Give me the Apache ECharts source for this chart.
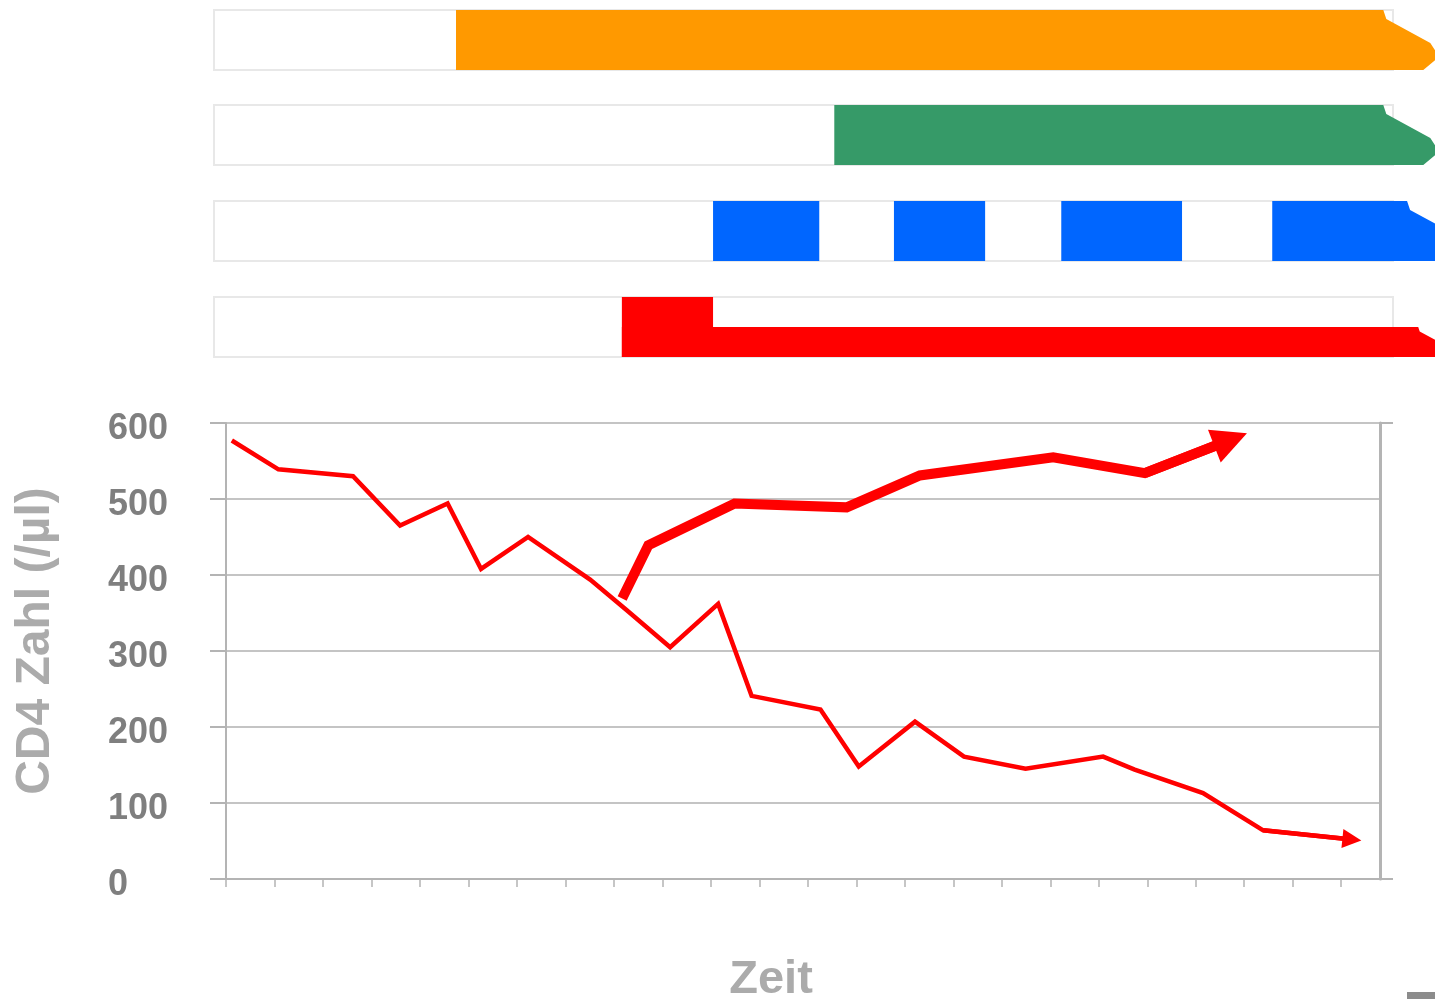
<!DOCTYPE html>
<html lang="de">
<head>
<meta charset="UTF-8">
<title>CD4 Zahl</title>
<style>html,body{margin:0;padding:0;background:#fff;}</style>
</head>
<body>
<div id="main" style="width:1435px;height:999px;"></div>
<script src="https://cdn.jsdelivr.net/npm/echarts@6/dist/echarts.min.js"></script>
<script type="text/javascript">
    // Zeitachse: eine Einheit = ein Teilstrich
    var xTicks = [0,1,2,3,4,5,6,7,8,9,10,11,12,13,14,15,16,17,18,19,20,21,22,23];

    // CD4 Verlauf ohne Therapie (letzter Punkt = Pfeil)
    var cd4Ohne = [[0.12,577],[1.08,539],[2.62,530],[3.59,465],[4.57,494],[5.26,408],
        [6.23,450],[7.51,394],[8.26,354],[9.16,305],[10.15,362],[10.84,241],[12.26,223],
        [13.05,148],[14.21,207],[15.22,161],[16.49,145],[18.09,161],[18.74,144],[20.15,113],
        [21.39,64],[23.22,52]];

    // CD4 Verlauf mit Therapie
    var cd4Mit = [[8.17,369],[8.71,439],[10.49,494],[12.80,489],[14.31,531],[17.06,555],
        [18.95,534],[20.72,578]];

    // Balken oben: [start, ende, unten, oben, pfeil]
    var balkenOrange = [[4.74, 23.86, 0, 1, 1]];
    var balkenGruen  = [[12.54, 23.86, 0, 1, 1]];
    var balkenBlau   = [[10.04, 12.23, 0, 1, 0], [13.77, 15.65, 0, 1, 0],
                        [17.22, 19.71, 0, 1, 0], [21.57, 24.35, 0, 1, 1]];
    var balkenRot    = [[8.16, 10.04, 0, 1, 0], [8.16, 24.58, 0, 0.5, 1]];

    var fontFam = '"Liberation Sans", Arial, sans-serif';
    var grau = '#b4b4b4';

    function balkenItem(params, api) {
        var p0 = api.coord([api.value(0), api.value(3)]);
        var p1 = api.coord([api.value(1), api.value(2)]);
        var x0 = p0[0], top = p0[1], xe = p1[0], bot = p1[1], h = bot - top;
        var pts;
        if (api.value(4)) {
            var k = h / 60;
            pts = [[x0, top], [xe, top], [xe + 3 * k, top + 0.15 * h], [xe + 47 * k, top + 0.55 * h],
                   [xe + 56 * k, top + 0.78 * h], [xe + 40 * k, bot], [x0, bot]];
        } else {
            pts = [[x0, top], [xe, top], [xe, bot], [x0, bot]];
        }
        return { type: 'polygon', shape: { points: pts }, style: { fill: api.visual('color') } };
    }

    var stripTops = [10, 105, 201, 297];
    var grids = [{ left: 226, right: 55, top: 423, bottom: 120, outerBoundsMode: 'none', containLabel: false }];
    var xAxes = [{
        type: 'value', gridIndex: 0, min: 0, max: 23.8,
        name: 'Zeit', nameLocation: 'middle', nameGap: 78,
        nameTextStyle: { fontSize: 47, fontWeight: 'bold', color: '#ababab', fontFamily: fontFam, padding: [0, 64, 0, 0] },
        axisLine: { show: true, lineStyle: { color: grau, width: 2 } },
        axisTick: { show: true, length: 8, customValues: xTicks, lineStyle: { color: grau, width: 1.5 } },
        axisLabel: { show: false },
        splitLine: { show: false }
    }];
    var yAxes = [{
        type: 'value', gridIndex: 0, min: 0, max: 600, interval: 100,
        name: 'CD4 Zahl (/µl)', nameLocation: 'middle', nameGap: 166, nameRotate: 90,
        nameTextStyle: { fontSize: 48, fontWeight: 'bold', color: '#ababab', fontFamily: fontFam, padding: [0, 0, 0, 20] },
        axisLine: { show: true, lineStyle: { color: grau, width: 2 } },
        axisTick: { show: true, length: 16, lineStyle: { color: grau, width: 2 } },
        axisLabel: { margin: 118, align: 'left', verticalAlign: 'top', lineHeight: 12, fontSize: 36,
                     fontWeight: 'bold', color: '#7f7f7f', fontFamily: fontFam },
        splitLine: { show: true, lineStyle: { color: '#c4c4c4', width: 2 } }
    }, {
        type: 'value', gridIndex: 0, position: 'right', min: 0, max: 600, interval: 600,
        axisLine: { show: true, lineStyle: { color: grau, width: 3 } },
        axisTick: { show: true, length: 13, lineStyle: { color: grau, width: 2 } },
        axisLabel: { show: false },
        splitLine: { show: false }
    }];

    var balken = [balkenOrange, balkenGruen, balkenBlau, balkenRot];
    var farben = ['#ff9900', '#369a68', '#0066ff', '#ff0000'];
    var series = [];
    for (var i = 0; i < 4; i++) {
        grids.push({ left: 214, right: 42, top: stripTops[i], height: 60, show: true,
                     borderColor: '#e8e8e8', borderWidth: 2, backgroundColor: '#fff', outerBoundsMode: 'none' });
        xAxes.push({ type: 'value', gridIndex: i + 1, min: -0.25, max: 24.06, show: false });
        yAxes.push({ type: 'value', gridIndex: i + 1, min: 0, max: 1, show: false });
        series.push({
            type: 'custom', xAxisIndex: i + 1, yAxisIndex: i + 2, clip: false,
            itemStyle: { color: farben[i] },
            renderItem: balkenItem, data: balken[i], silent: true
        });
    }

    series.push({
        name: 'ohne', type: 'line', xAxisIndex: 0, yAxisIndex: 0, data: cd4Ohne,
        symbol: 'none', lineStyle: { color: '#ff0000', width: 4.5, join: 'miter', cap: 'butt' }, z: 5
    });
    series.push({
        name: 'mit', type: 'line', xAxisIndex: 0, yAxisIndex: 0, data: cd4Mit,
        symbol: 'none', lineStyle: { color: '#ff0000', width: 10, join: 'miter', cap: 'butt' }, z: 5
    });
    // Pfeilspitzen am Ende beider Linien
    series.push({
        type: 'lines', coordinateSystem: 'cartesian2d', xAxisIndex: 0, yAxisIndex: 0,
        symbol: ['none', 'triangle'], symbolSize: 19, z: 6,
        lineStyle: { color: '#ff0000', width: 4.5, opacity: 1 },
        data: [{ coords: [cd4Ohne[cd4Ohne.length - 2], cd4Ohne[cd4Ohne.length - 1]] }]
    });
    series.push({
        type: 'lines', coordinateSystem: 'cartesian2d', xAxisIndex: 0, yAxisIndex: 0,
        symbol: ['none', 'triangle'], symbolSize: 35, z: 6,
        lineStyle: { color: '#ff0000', width: 10, opacity: 1 },
        data: [{ coords: [cd4Mit[cd4Mit.length - 2], cd4Mit[cd4Mit.length - 1]] }]
    });

    var myChart = echarts.init(document.getElementById('main'));
    myChart.setOption({
        animation: false,
        backgroundColor: '#fff',
        grid: grids,
        xAxis: xAxes,
        yAxis: yAxes,
        graphic: [{ type: 'rect', right: 0, bottom: 0, shape: { width: 28, height: 7 }, style: { fill: '#8c8c8c' } }],
        series: series
    });
</script>
</body>
</html>
